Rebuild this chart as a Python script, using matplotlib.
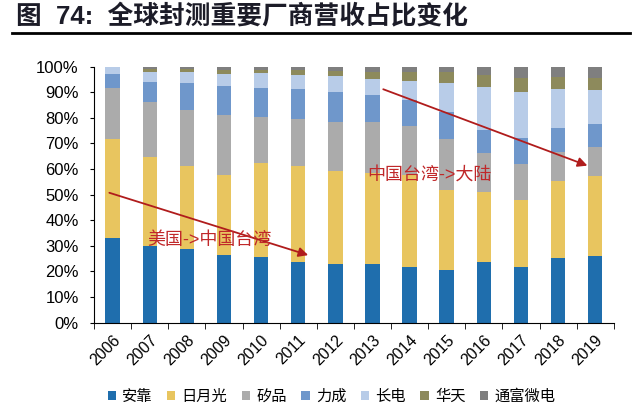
import numpy as np
import matplotlib
matplotlib.use('Agg')
import matplotlib.pyplot as plt
from matplotlib.ticker import PercentFormatter

plt.rcParams['font.family'] = ['Liberation Sans', 'Noto Sans CJK SC']

# data (share of revenue, %)
years = ['2006', '2007', '2008', '2009', '2010', '2011', '2012',
         '2013', '2014', '2015', '2016', '2017', '2018', '2019']
amkor = [33.1, 29.9, 28.6, 26.4, 25.6, 23.5, 22.7, 22.7, 21.7, 20.4, 23.5, 21.7, 25.1, 26.0]
ase = [38.6, 34.6, 32.5, 31.2, 36.6, 37.6, 36.6, 35.6, 35.9, 31.4, 27.6, 26.2, 30.2, 31.2]
spil = [19.8, 21.8, 21.9, 23.4, 18.2, 18.4, 18.9, 19.9, 19.3, 19.9, 15.0, 13.9, 11.4, 11.2]
pti = [5.5, 7.8, 10.7, 11.5, 11.3, 11.6, 12.0, 10.7, 10.0, 10.4, 9.1, 10.1, 9.4, 9.0]
jcet = [3.0, 3.9, 4.0, 4.5, 5.6, 5.6, 6.1, 6.2, 7.4, 11.6, 16.7, 18.3, 15.0, 13.4]
huatian = [0.0, 1.0, 1.3, 1.6, 1.3, 1.9, 2.1, 2.9, 3.7, 4.0, 4.8, 5.2, 4.7, 4.6]
tfme = [0.0, 1.0, 1.0, 1.4, 1.4, 1.4, 1.6, 2.0, 2.0, 2.3, 3.3, 4.6, 4.2, 4.6]

names = ['安靠', '日月光', '矽品', '力成', '长电', '华天', '通富微电']
colors = ['#1f6ead', '#e8c55f', '#ababab', '#6f97cb', '#b8cce8', '#8d8a5c', '#7f7f7f']
series = [amkor, ase, spil, pti, jcet, huatian, tfme]

fig = plt.figure(figsize=(6.4, 4.17), dpi=100)
ax = fig.add_axes([0.147, 0.2266, 0.812, 0.6139])

x = np.arange(len(years))
bottom = np.zeros(len(years))
for name, col, vals in zip(names, colors, series):
    v = np.array(vals) / 100
    ax.bar(x, v, 0.39, bottom=bottom, color=col, label=name)
    bottom += v

ax.set_xlim(-0.5, len(years) - 0.5)
ax.set_ylim(0, 1)
ax.set_yticks(np.arange(0, 1.01, 0.1))
ax.yaxis.set_major_formatter(PercentFormatter(1.0, decimals=0))
ax.set_xticks(x)
ax.set_xticklabels(years, rotation=45, ha='right', rotation_mode='anchor')
ax.set_xticks(np.arange(-0.5, len(years)), minor=True)
ax.tick_params(axis='x', which='major', length=0, labelsize=11.5, pad=7)
ax.tick_params(axis='x', which='minor', length=4, direction='out')
ax.tick_params(axis='y', labelsize=12, length=3, pad=8)
for s in ['top', 'right']:
    ax.spines[s].set_visible(False)

# trend arrows and notes
red = '#b01c1c'
ax.annotate('', xy=(5.34, 0.26), xytext=(-0.16, 0.51),
            arrowprops=dict(arrowstyle='-|>', color=red, lw=1.3, mutation_scale=14))
ax.annotate('', xy=(12.86, 0.609), xytext=(7.22, 0.915),
            arrowprops=dict(arrowstyle='-|>', color=red, lw=1.3, mutation_scale=14))
ax.text(0.94, 0.322, '美国->中国台湾', color='#c0282a', fontsize=13, va='center', ha='left')
ax.text(6.85, 0.576, '中国台湾->大陆', color='#c0282a', fontsize=13, va='center', ha='left')

# title and rule
fig.text(0.025, 0.962, '图  74:  全球封测重要厂商营收占比变化', fontsize=18.5, fontweight='bold',
         color='#1c1c28', va='center', ha='left')
fig.add_artist(plt.Line2D([0.019, 0.984], [0.921, 0.921], color='black', lw=2))

fig.legend(loc='center', bbox_to_anchor=(0.518, 0.048), ncol=7, frameon=False,
           fontsize=11, handlelength=0.55, handleheight=0.55, handletextpad=0.4,
           columnspacing=0.95)

fig.savefig('out.png', dpi=100)
